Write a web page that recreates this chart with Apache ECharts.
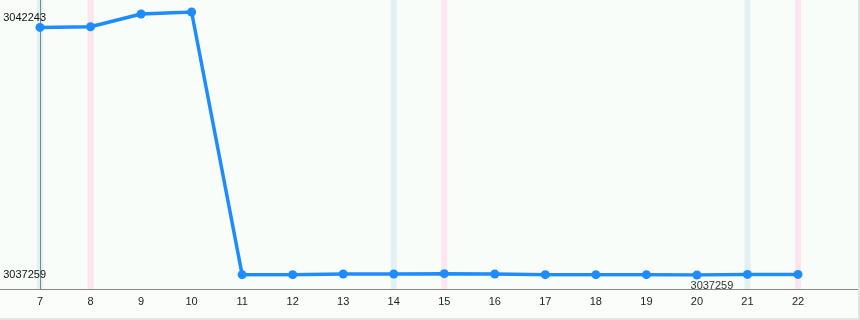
<!DOCTYPE html>
<html>
<head>
<meta charset="utf-8">
<script src="https://cdn.jsdelivr.net/npm/echarts@6/dist/echarts.min.js"></script>
<style>
html,body{margin:0;padding:0;background:#fbfdfb;}
#wrap{position:relative;width:860px;height:320px;}
#c{width:860px;height:320px;}
#frame{position:absolute;left:0;top:0;width:860px;height:320px;box-sizing:border-box;border-right:2px solid #e3e5e3;border-bottom:2px solid #e3e5e3;pointer-events:none;}
</style>
</head>
<body>
<div id="wrap"><div id="c"></div><div id="frame"></div></div>
<script>
var categories = ['7','8','9','10','11','12','13','14','15','16','17','18','19','20','21','22'];
var values = [3041951,3041964,3042205,3042243,3037265,3037265,3037278,3037278,3037284,3037278,3037265,3037265,3037265,3037259,3037270,3037270];
var blueDays = ['7','14','21'];
var pinkDays = ['8','15','22'];
var yTickLabels = [3037259, 3042243];

var minV = Math.min.apply(null, values);
var maxV = Math.max.apply(null, values);
var minIdx = values.indexOf(minV);

var lineData = values.map(function (v, i) {
  if (i === minIdx) {
    return {value: v, label: {show: true, position: 'bottom', distance: 1, offset: [15, 0], color: '#333', fontSize: 11, fontFamily: 'Liberation Sans, Arial, sans-serif'}};
  }
  return v;
});
var blueBars = categories.map(function (c) { return blueDays.indexOf(c) >= 0 ? 1 : '-'; });
var pinkBars = categories.map(function (c) { return pinkDays.indexOf(c) >= 0 ? 1 : '-'; });

var chart = echarts.init(document.getElementById('c'), null, {renderer: 'canvas'});
chart.setOption({
  animation: false,
  backgroundColor: '#fbfdfb',
  grid: [
    {left: 40, right: 62, top: 12, bottom: 45, containLabel: false, outerBoundsMode: 'none'},
    {left: 40, right: 62, top: 0, bottom: 31, containLabel: false, outerBoundsMode: 'none'},
    {left: 0, right: 0, top: 0, bottom: 31, show: true, backgroundColor: '#f9fdf9', borderWidth: 0, containLabel: false, outerBoundsMode: 'none'}
  ],
  xAxis: [
    {gridIndex: 0, type: 'category', data: categories, boundaryGap: false, show: false},
    {gridIndex: 1, type: 'category', data: categories, boundaryGap: false,
      axisLine: {show: false}, axisTick: {show: false}, splitLine: {show: false},
      axisLabel: {margin: 7, fontSize: 11, color: '#222', fontFamily: 'Liberation Sans, Arial, sans-serif'}},
    {gridIndex: 2, type: 'value', min: 0, max: 1,
      axisLine: {show: true, onZero: false, lineStyle: {color: '#888', width: 1}},
      axisTick: {show: false}, axisLabel: {show: false}, splitLine: {show: false}}
  ],
  yAxis: [
    {gridIndex: 0, type: 'value', min: minV, max: maxV, z: 4,
      axisLine: {show: false}, axisTick: {show: false}, splitLine: {show: false},
      axisLabel: {customValues: yTickLabels, margin: -6, fontSize: 11, color: '#111',
        formatter: function (v) { return String(v); },
        fontFamily: 'Liberation Sans, Arial, sans-serif', verticalAlignMaxLabel: 'top'}},
    {gridIndex: 1, type: 'value', min: 0, max: 1, z: 3,
      axisLine: {show: true, lineStyle: {color: '#6f8b90', width: 1}},
      axisTick: {show: false}, axisLabel: {show: false}, splitLine: {show: false}},
    {gridIndex: 2, type: 'value', min: 0, max: 1, show: false}
  ],
  series: [
    {type: 'bar', xAxisIndex: 1, yAxisIndex: 1, data: blueBars, barWidth: 6, barGap: '-100%',
      itemStyle: {color: '#e2f0f3'}, silent: true, z: 1},
    {type: 'bar', xAxisIndex: 1, yAxisIndex: 1, data: pinkBars, barWidth: 6, barGap: '-100%',
      itemStyle: {color: '#fce5ef'}, silent: true, z: 1},
    {type: 'line', xAxisIndex: 0, yAxisIndex: 0, data: lineData,
      symbol: 'circle', symbolSize: 9, showSymbol: true,
      lineStyle: {color: '#1e8cff', width: 3.5},
      itemStyle: {color: '#1e8cff'}, z: 5}
  ]
});
</script>
</body>
</html>
